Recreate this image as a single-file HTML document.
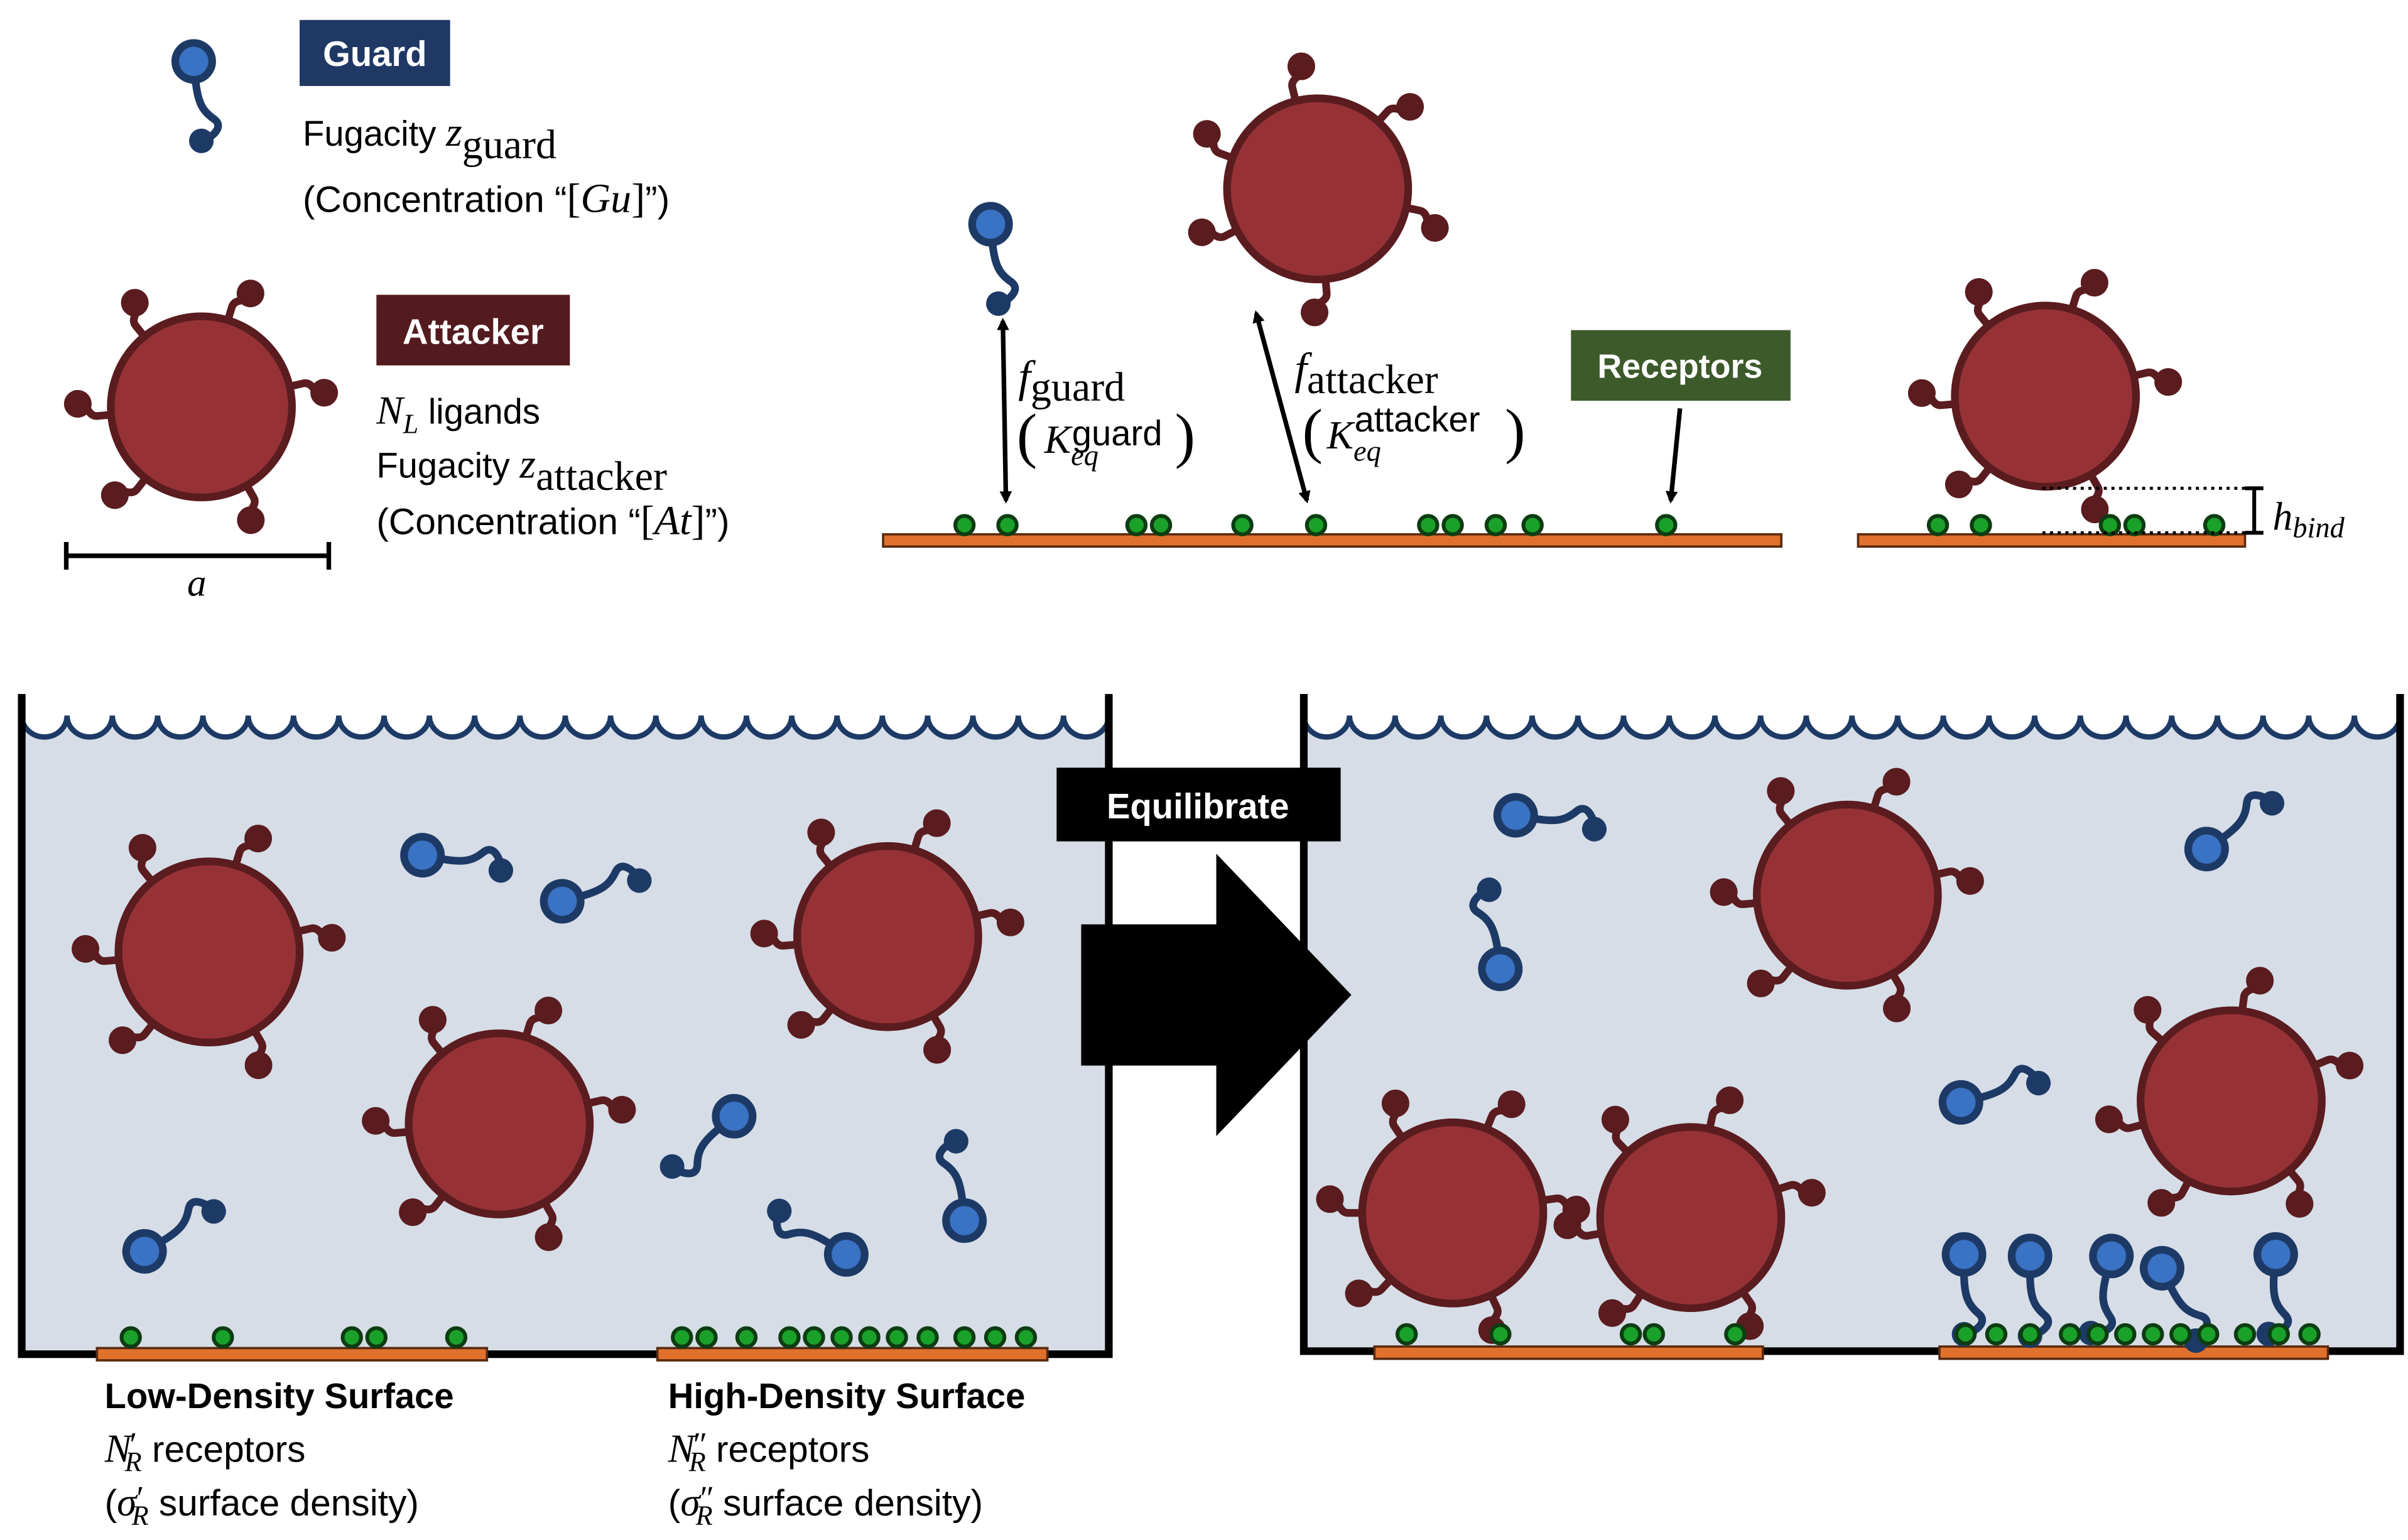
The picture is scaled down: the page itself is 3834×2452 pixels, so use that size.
<!DOCTYPE html>
<html><head><meta charset="utf-8"><style>html,body{margin:0;padding:0;background:#fff}svg{display:block}</style></head>
<body>
<svg width="3834" height="2452" viewBox="0 0 1568 1003" xmlns="http://www.w3.org/2000/svg" font-family="Liberation Sans, sans-serif">
<defs>
<g id="guard">
<path d="M0,12 C0,28 3,33 10,39 C15,44 9,49 2,52" fill="none" stroke="#1d3a66" stroke-width="5" stroke-linecap="round"/>
<circle cx="0" cy="52" r="8" fill="#1d3a66"/>
<circle cx="0" cy="0" r="12" fill="#3a72c4" stroke="#1d3a66" stroke-width="5"/>
</g>
<g id="lig">
<path d="M0,-58 L0,-68 Q0,-72 5,-74 L8,-76" fill="none" stroke="#5a1c1f" stroke-width="5"/>
<circle cx="9" cy="-80" r="9" fill="#5a1c1f"/>
</g>
<g id="att">
<use href="#lig" transform="rotate(17)"/>
<use href="#lig" transform="rotate(-39)"/>
<use href="#lig" transform="rotate(77)"/>
<use href="#lig" transform="rotate(-95)"/>
<use href="#lig" transform="rotate(-142)"/>
<use href="#lig" transform="rotate(150)"/>
<circle cx="0" cy="0" r="59" fill="#963236" stroke="#5a1c1f" stroke-width="5"/>
</g>
<marker id="ah" markerWidth="8" markerHeight="8" refX="6" refY="4" orient="auto-start-reverse" markerUnits="userSpaceOnUse"><path d="M0,0 L8,4 L0,8 z" fill="#000"/></marker>
<g id="dot"><circle r="6" fill="#1aa12a" stroke="#0d3d12" stroke-width="2.5"/></g>
</defs>

<!-- Legend -->
<use href="#guard" transform="translate(126,40) rotate(-5.5)"/>
<rect x="195" y="13" width="98" height="43" fill="#1f3864"/>
<text x="244" y="43" font-size="23" font-weight="bold" fill="#fff" text-anchor="middle">Guard</text>
<text x="197" y="95" font-size="23">Fugacity <tspan font-family="Liberation Serif" font-style="italic" font-size="27">z</tspan><tspan font-family="Liberation Serif" font-size="27" dy="8">guard</tspan></text>
<text x="197" y="138" font-size="24">(Concentration “<tspan font-family="Liberation Serif" font-size="27">[<tspan font-style="italic">Gu</tspan>]</tspan>”)</text>

<use href="#att" transform="translate(131,265)"/>
<rect x="245" y="192" width="126" height="46" fill="#541b1f"/>
<text x="308" y="224" font-size="23" font-weight="bold" fill="#fff" text-anchor="middle">Attacker</text>
<text x="245" y="276" font-size="23"><tspan font-family="Liberation Serif" font-style="italic" font-size="26">N</tspan><tspan font-family="Liberation Serif" font-style="italic" font-size="18" dy="6">L</tspan><tspan dy="-6"> ligands</tspan></text>
<text x="245" y="311" font-size="23">Fugacity <tspan font-family="Liberation Serif" font-style="italic" font-size="27">z</tspan><tspan font-family="Liberation Serif" font-size="27" dy="8">attacker</tspan></text>
<text x="245" y="348" font-size="24">(Concentration “<tspan font-family="Liberation Serif" font-size="27">[<tspan font-style="italic">At</tspan>]</tspan>”)</text>
<path d="M43,362 H214 M43,353 V371 M214,353 V371" stroke="#000" stroke-width="3" fill="none"/>
<text x="128" y="388" font-size="25" font-family="Liberation Serif" font-style="italic" text-anchor="middle">a</text>

<!-- Top middle -->
<rect x="575" y="348" width="585" height="8" fill="#e0712c" stroke="#5a2a10" stroke-width="1.5"/>
<g>
<use href="#dot" x="628" y="342"/><use href="#dot" x="656" y="342"/><use href="#dot" x="740" y="342"/><use href="#dot" x="756" y="342"/><use href="#dot" x="809" y="342"/><use href="#dot" x="857" y="342"/><use href="#dot" x="930" y="342"/><use href="#dot" x="946" y="342"/><use href="#dot" x="974" y="342"/><use href="#dot" x="998" y="342"/><use href="#dot" x="1085" y="342"/>
</g>
<use href="#guard" transform="translate(645,146) rotate(-5.6)"/>
<line x1="653" y1="209" x2="655" y2="326" stroke="#000" stroke-width="3" marker-start="url(#ah)" marker-end="url(#ah)"/>
<use href="#att" transform="translate(858,123) rotate(25)"/>
<line x1="818" y1="204" x2="851" y2="326" stroke="#000" stroke-width="3" marker-start="url(#ah)" marker-end="url(#ah)"/>
<text x="663" y="255" font-family="Liberation Serif" font-size="29"><tspan font-style="italic">f</tspan><tspan font-size="27" dy="6">guard</tspan></text>
<text x="662" y="297" font-family="Liberation Serif" font-size="40">(</text>
<text x="680" y="295" font-family="Liberation Serif" font-size="26" font-style="italic">K<tspan font-size="19" dy="8">eq</tspan></text>
<text x="698" y="290" font-family="Liberation Sans" font-size="23">guard</text>
<text x="765" y="297" font-family="Liberation Serif" font-size="40">)</text>
<text x="843" y="250" font-family="Liberation Serif" font-size="29"><tspan font-style="italic">f</tspan><tspan font-size="27" dy="6">attacker</tspan></text>
<text x="848" y="294" font-family="Liberation Serif" font-size="40">(</text>
<text x="864" y="292" font-family="Liberation Serif" font-size="26" font-style="italic">K<tspan font-size="19" dy="8">eq</tspan></text>
<text x="882" y="281" font-family="Liberation Sans" font-size="23">attacker</text>
<text x="980" y="294" font-family="Liberation Serif" font-size="40">)</text>
<rect x="1023" y="215" width="143" height="46" fill="#3d5a2a"/>
<text x="1094" y="246" font-size="22" font-weight="bold" fill="#fff" text-anchor="middle">Receptors</text>
<line x1="1094" y1="266" x2="1088" y2="326" stroke="#000" stroke-width="3" marker-end="url(#ah)"/>

<!-- Top right -->
<use href="#att" transform="translate(1332,258)"/>
<rect x="1210" y="348" width="252" height="8" fill="#e0712c" stroke="#5a2a10" stroke-width="1.5"/>
<use href="#dot" x="1262" y="342"/><use href="#dot" x="1290" y="342"/><use href="#dot" x="1374" y="342"/><use href="#dot" x="1390" y="342"/><use href="#dot" x="1442" y="342"/>
<path d="M1330,318 H1462 M1330,347 H1462" stroke="#000" stroke-width="2" stroke-dasharray="2,3"/>
<path d="M1468,318 V347 M1462,318 H1474 M1462,347 H1474" stroke="#000" stroke-width="2.5"/>
<text x="1480" y="345" font-family="Liberation Serif" font-size="26" font-style="italic">h<tspan font-size="19" dy="5">bind</tspan></text>

<!-- Bottom left container -->
<rect x="14" y="468" width="708" height="414" fill="#d6dde6"/>
<path d="M14,466 a14.75,14 0 0 0 29.5,0 a14.75,14 0 0 0 29.5,0 a14.75,14 0 0 0 29.5,0 a14.75,14 0 0 0 29.5,0 a14.75,14 0 0 0 29.5,0 a14.75,14 0 0 0 29.5,0 a14.75,14 0 0 0 29.5,0 a14.75,14 0 0 0 29.5,0 a14.75,14 0 0 0 29.5,0 a14.75,14 0 0 0 29.5,0 a14.75,14 0 0 0 29.5,0 a14.75,14 0 0 0 29.5,0 a14.75,14 0 0 0 29.5,0 a14.75,14 0 0 0 29.5,0 a14.75,14 0 0 0 29.5,0 a14.75,14 0 0 0 29.5,0 a14.75,14 0 0 0 29.5,0 a14.75,14 0 0 0 29.5,0 a14.75,14 0 0 0 29.5,0 a14.75,14 0 0 0 29.5,0 a14.75,14 0 0 0 29.5,0 a14.75,14 0 0 0 29.5,0 a14.75,14 0 0 0 29.5,0 a14.75,14 0 0 0 29.5,0" fill="#fff" stroke="#1d3a66" stroke-width="3.5"/>
<path d="M14,452 V882 H722 V452" fill="none" stroke="#000" stroke-width="5"/>
<rect x="63" y="878" width="254" height="8" fill="#e0712c" stroke="#5a2a10" stroke-width="1.5"/>
<rect x="428" y="878" width="254" height="8" fill="#e0712c" stroke="#5a2a10" stroke-width="1.5"/>
<g>
<use href="#dot" x="85" y="871"/><use href="#dot" x="145" y="871"/><use href="#dot" x="229" y="871"/><use href="#dot" x="245" y="871"/><use href="#dot" x="297" y="871"/>
<use href="#dot" x="444" y="871"/><use href="#dot" x="460" y="871"/><use href="#dot" x="486" y="871"/><use href="#dot" x="514" y="871"/><use href="#dot" x="530" y="871"/><use href="#dot" x="548" y="871"/><use href="#dot" x="566" y="871"/><use href="#dot" x="584" y="871"/><use href="#dot" x="604" y="871"/><use href="#dot" x="628" y="871"/><use href="#dot" x="648" y="871"/><use href="#dot" x="668" y="871"/>
</g>
<use href="#att" transform="translate(136,620)"/>
<use href="#att" transform="translate(325,732)"/>
<use href="#att" transform="translate(578,610)"/>
<use href="#guard" transform="translate(275,557) rotate(-79)"/>
<use href="#guard" transform="translate(366,587) rotate(-105)"/>
<use href="#guard" transform="translate(478,727) rotate(51)"/>
<use href="#guard" transform="translate(628,795) rotate(174)"/>
<use href="#guard" transform="translate(94,815) rotate(-120)"/>
<use href="#guard" transform="translate(551,817) rotate(123)"/>
<text x="68" y="917" font-size="23" font-weight="bold">Low-Density Surface</text>
<text x="68" y="952" font-size="24"><tspan font-family="Liberation Serif" font-style="italic" font-size="26">N</tspan><tspan font-family="Liberation Serif" font-size="22" dx="-1" dy="-4">′</tspan><tspan font-family="Liberation Serif" font-style="italic" font-size="18" dx="-8" dy="10">R</tspan><tspan dy="-6"> receptors</tspan></text>
<text x="68" y="987" font-size="24">(<tspan font-family="Liberation Serif" font-style="italic" font-size="26">σ</tspan><tspan font-family="Liberation Serif" font-size="22" dy="-4">′</tspan><tspan font-family="Liberation Serif" font-style="italic" font-size="18" dx="-8" dy="10">R</tspan><tspan dy="-6"> surface density)</tspan></text>
<text x="435" y="917" font-size="23" font-weight="bold">High-Density Surface</text>
<text x="435" y="952" font-size="24"><tspan font-family="Liberation Serif" font-style="italic" font-size="26">N</tspan><tspan font-family="Liberation Serif" font-size="22" dx="-1" dy="-4">″</tspan><tspan font-family="Liberation Serif" font-style="italic" font-size="18" dx="-12" dy="10">R</tspan><tspan dy="-6"> receptors</tspan></text>
<text x="435" y="987" font-size="24">(<tspan font-family="Liberation Serif" font-style="italic" font-size="26">σ</tspan><tspan font-family="Liberation Serif" font-size="22" dy="-4">″</tspan><tspan font-family="Liberation Serif" font-style="italic" font-size="18" dx="-12" dy="10">R</tspan><tspan dy="-6"> surface density)</tspan></text>

<!-- Bottom right container -->
<rect x="849" y="468" width="714" height="412" fill="#d6dde6"/>
<path d="M849,466 a14.875,14 0 0 0 29.75,0 a14.875,14 0 0 0 29.75,0 a14.875,14 0 0 0 29.75,0 a14.875,14 0 0 0 29.75,0 a14.875,14 0 0 0 29.75,0 a14.875,14 0 0 0 29.75,0 a14.875,14 0 0 0 29.75,0 a14.875,14 0 0 0 29.75,0 a14.875,14 0 0 0 29.75,0 a14.875,14 0 0 0 29.75,0 a14.875,14 0 0 0 29.75,0 a14.875,14 0 0 0 29.75,0 a14.875,14 0 0 0 29.75,0 a14.875,14 0 0 0 29.75,0 a14.875,14 0 0 0 29.75,0 a14.875,14 0 0 0 29.75,0 a14.875,14 0 0 0 29.75,0 a14.875,14 0 0 0 29.75,0 a14.875,14 0 0 0 29.75,0 a14.875,14 0 0 0 29.75,0 a14.875,14 0 0 0 29.75,0 a14.875,14 0 0 0 29.75,0 a14.875,14 0 0 0 29.75,0 a14.875,14 0 0 0 29.75,0" fill="#fff" stroke="#1d3a66" stroke-width="3.5"/>
<path d="M849,452 V880 H1563 V452" fill="none" stroke="#000" stroke-width="5"/>
<rect x="895" y="877" width="253" height="8" fill="#e0712c" stroke="#5a2a10" stroke-width="1.5"/>
<rect x="1263" y="877" width="253" height="8" fill="#e0712c" stroke="#5a2a10" stroke-width="1.5"/>
<use href="#att" transform="translate(1203,583)"/>
<use href="#att" transform="translate(1453,717) rotate(-10)"/>
<use href="#att" transform="translate(946,790) rotate(5)"/>
<use href="#att" transform="translate(1101,793) rotate(-5)"/>
<g>
<use href="#dot" x="916" y="869"/><use href="#dot" x="977" y="869"/><use href="#dot" x="1062" y="869"/><use href="#dot" x="1077" y="869"/><use href="#dot" x="1130" y="869"/>
</g>
<use href="#guard" transform="translate(987,531) rotate(-80)"/>
<use href="#guard" transform="translate(977,631) rotate(172)"/>
<use href="#guard" transform="translate(1437,553) rotate(-125)"/>
<use href="#guard" transform="translate(1277,718) rotate(-104)"/>
<use href="#guard" transform="translate(1279,817)"/>
<use href="#guard" transform="translate(1322,818)"/>
<use href="#guard" transform="translate(1375,818) rotate(15)"/>
<use href="#guard" transform="translate(1408,826) rotate(-25)"/>
<use href="#guard" transform="translate(1482,817) rotate(5)"/>
<g>
<use href="#dot" x="1280" y="869"/><use href="#dot" x="1300" y="869"/><use href="#dot" x="1322" y="869"/><use href="#dot" x="1348" y="869"/><use href="#dot" x="1366" y="869"/><use href="#dot" x="1384" y="869"/><use href="#dot" x="1402" y="869"/><use href="#dot" x="1420" y="869"/><use href="#dot" x="1438" y="869"/><use href="#dot" x="1462" y="869"/><use href="#dot" x="1484" y="869"/><use href="#dot" x="1504" y="869"/>
</g>

<!-- Equilibrate arrow (on top) -->
<rect x="688" y="500" width="185" height="48" fill="#000"/>
<text x="780" y="533" font-size="23" font-weight="bold" fill="#fff" text-anchor="middle">Equilibrate</text>
<path d="M704,602 H792 V556 L880,648 L792,740 V694 H704 Z" fill="#000"/>
</svg>
</body></html>
